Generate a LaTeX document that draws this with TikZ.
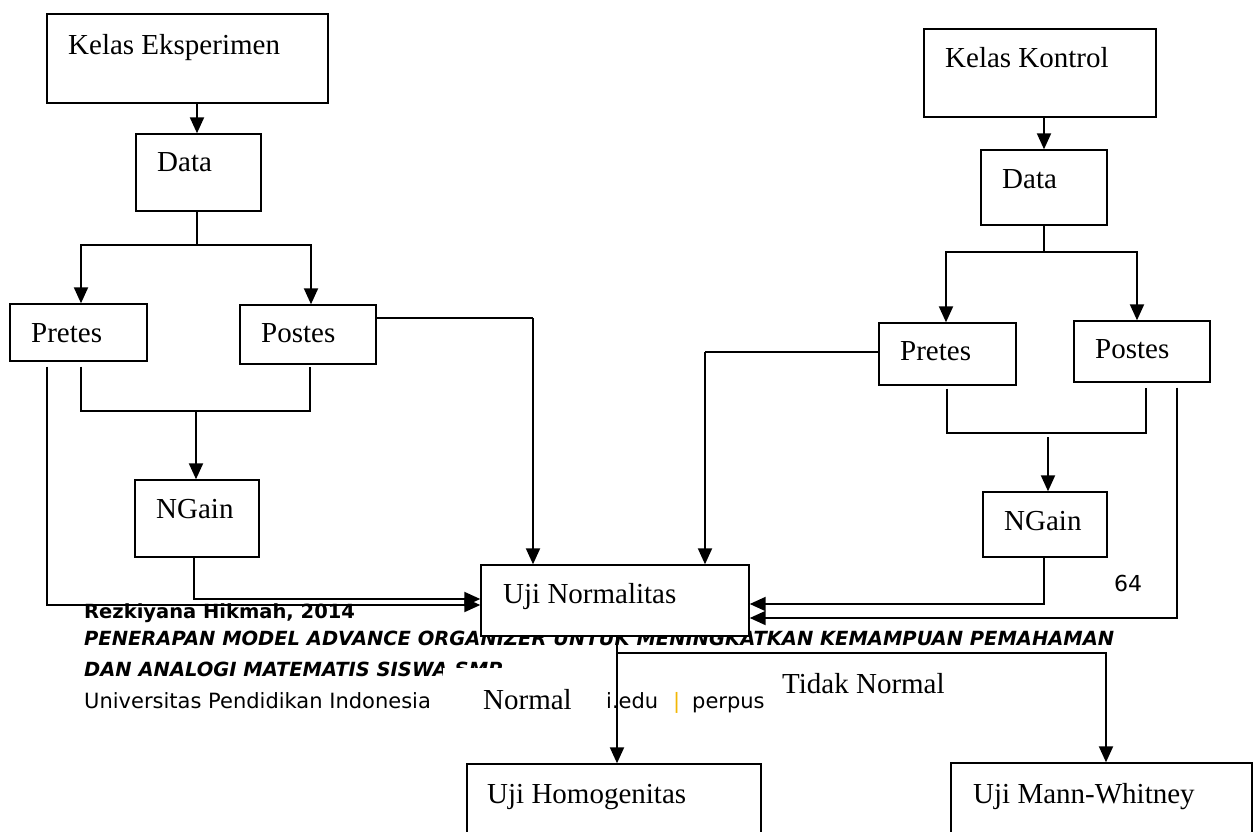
\documentclass[tikz,border=0pt]{standalone}
\usepackage{fontspec}
\setmainfont{Liberation Serif}
\newfontfamily\footsans{DejaVu Sans}
\usetikzlibrary{arrows.meta,calc}
\definecolor{upiyellow}{HTML}{F2B705}
\begin{document}
\begin{tikzpicture}[x=1pt,y=-1pt,
  box/.style={draw=black,line width=1.4pt,fill=white,inner sep=0pt},
  lbl/.style={anchor=base west,inner sep=0pt,font=\fontsize{29}{30}\selectfont},
  conn/.style={line width=1.4pt},
  arr/.style={line width=2pt,-{Triangle[length=16pt,width=14pt]}},
  foot/.style={anchor=base west,inner sep=0pt},
  footb/.style={foot,font=\footsans\bfseries\fontsize{19.5}{20}\selectfont},
  footbi/.style={foot,font=\footsans\bfseries\itshape\fontsize{19.5}{20}\selectfont},
  footr/.style={foot,font=\footsans\fontsize{21}{22}\selectfont},
]
\useasboundingbox (0,0) rectangle (1258,831);
\clip (0,0) rectangle (1258,831);

% footer (page text underneath the diagram)
\node[footb]  (f1) at (84,618) {Rezkiyana Hikmah, 2014};
\node[footbi] (f2) at (84,645) {PENERAPAN MODEL ADVANCE ORGANIZER UNTUK MENINGKATKAN KEMAMPUAN PEMAHAMAN};
\node[footbi] (f3) at (84,676) {DAN ANALOGI MATEMATIS SISWA SMP};
\node[footr]  (f4) at (84,708) {Universitas Pendidikan Indonesia};
\node[footr]  (f5) at (606,708) {i.edu};
\node[footr,text=upiyellow] (f6) at (673,708) {|};
\node[footr]  (f7) at (692,708) {perpus};
\node[foot,font=\footsans\fontsize{22}{23}\selectfont] (p64) at (1114,591) {64};
\fill[white] (443,668) rectangle (605,740);

% boxes
\node[box,minimum width=281pt,minimum height=89pt] (ke) at (187.5,58.5) {};
\node[box,minimum width=125pt,minimum height=77pt] (dataL) at (198.5,172.5) {};
\node[box,minimum width=137pt,minimum height=57pt] (pretesL) at (78.5,332.5) {};
\node[box,minimum width=136pt,minimum height=59pt] (postesL) at (308,334.5) {};
\node[box,minimum width=124pt,minimum height=77pt] (ngainL) at (197,518.5) {};
\node[box,minimum width=268pt,minimum height=71pt] (un) at (615,600.5) {};
\node[box,minimum width=232pt,minimum height=88pt] (kk) at (1040,73) {};
\node[box,minimum width=126pt,minimum height=75pt] (dataR) at (1044,187.5) {};
\node[box,minimum width=137pt,minimum height=62pt] (pretesR) at (947.5,354) {};
\node[box,minimum width=136pt,minimum height=61pt] (postesR) at (1142,351.5) {};
\node[box,minimum width=124pt,minimum height=65pt] (ngainR) at (1045,524.5) {};
\node[box,minimum width=294pt,minimum height=100pt] (homog) at (614,814) {};
\node[box,minimum width=301pt,minimum height=100pt] (mann) at (1101.5,813) {};

% labels
\node[lbl] (tke) at (68,54) {Kelas Eksperimen};
\node[lbl] (tdataL) at (157,171) {Data};
\node[lbl] (tpretesL) at (31,342) {Pretes};
\node[lbl] (tpostesL) at (261,342) {Postes};
\node[lbl] (tngainL) at (156,518) {NGain};
\node[lbl] (tun) at (503,603) {Uji Normalitas};
\node[lbl] (tkk) at (945,67) {Kelas Kontrol};
\node[lbl] (tdataR) at (1002,188) {Data};
\node[lbl] (tpretesR) at (900,360) {Pretes};
\node[lbl] (tpostesR) at (1095,358) {Postes};
\node[lbl] (tngainR) at (1004,530) {NGain};
\node[lbl] (tnormal) at (483,709) {Normal};
\node[lbl] (ttidak) at (782,693) {Tidak Normal};
\node[lbl] (thomog) at (487,803) {Uji Homogenitas};
\node[lbl] (tmann) at (973,803) {Uji Mann-Whitney};

% connectors, left
\draw[arr] (ke.south -| 197,0) -- (dataL.north -| 197,0);
\draw[conn] (dataL.south -| 197,0) -- (197,245);
\draw[arr] (197,245) -| (pretesL.north -| 81,0);
\draw[arr] (197,245) -| (postesL.north -| 311,0);
\draw[conn] (postesL.east |- 0,318) -- (533,318);
\draw[arr] (533,318) -- (un.north -| 533,0);
\draw[conn] ($(pretesL.south -| 81,0)+(0,5)$) -- (81,411) -- (310,411) -- ($(postesL.south -| 310,0)+(0,2)$);
\draw[arr] (196,411) -- (ngainL.north -| 196,0);
\draw[arr] (ngainL.south -| 194,0) -- (194,599) -- (un.west |- 0,599);
\draw[arr] ($(pretesL.south -| 47,0)+(0,5)$) -- (47,605) -- (un.west |- 0,605);

% connectors, right
\draw[arr] (kk.south -| 1044,0) -- (dataR.north -| 1044,0);
\draw[conn] (dataR.south -| 1044,0) -- (1044,252);
\draw[arr] (1044,252) -| (pretesR.north -| 946,0);
\draw[arr] (1044,252) -| (postesR.north -| 1137,0);
\draw[conn] (pretesR.west |- 0,352) -- (705,352);
\draw[arr] (705,352) -- (un.north -| 705,0);
\draw[conn] ($(pretesR.south -| 947,0)+(0,3)$) -- (947,433) -- (1146,433) -- ($(postesR.south -| 1146,0)+(0,5)$);
\draw[arr] (1048,437) -- (ngainR.north -| 1048,0);
\draw[arr] (ngainR.south -| 1044,0) -- (1044,604) -- (un.east |- 0,604);
\draw[arr] ($(postesR.south -| 1177,0)+(0,5)$) -- (1177,618) -- (un.east |- 0,618);

% connectors, bottom
\draw[arr] (un.south -| 617,0) -- (homog.north -| 617,0);
\draw[arr] (617,653) -| (mann.north -| 1106,0);
\end{tikzpicture}
\end{document}
